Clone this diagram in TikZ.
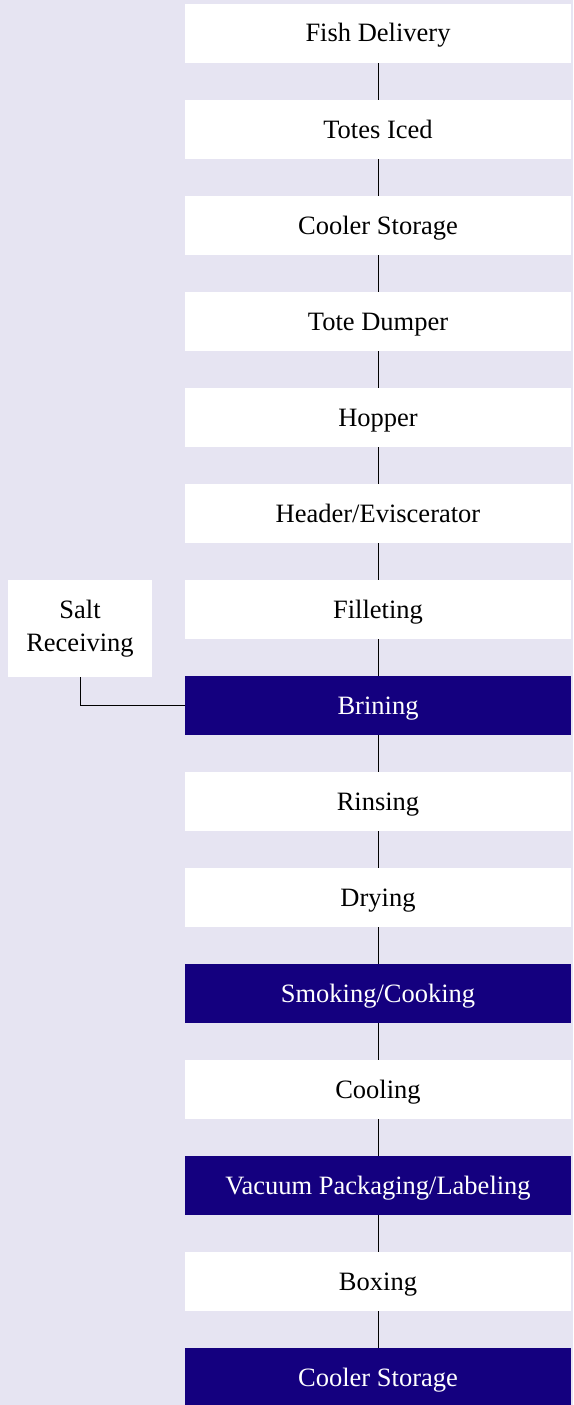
\documentclass[tikz,border=0pt]{standalone}
\usepackage{fontspec}
\setmainfont{Liberation Serif}
\definecolor{pagebg}{HTML}{E6E4F2}
\definecolor{ccpblue}{HTML}{14007F}
\begin{document}
\begin{tikzpicture}[x=1pt,y=-1pt,
  stepbox/.style={rectangle, inner sep=0pt, minimum width=386pt, minimum height=59pt,
    text height=18.5pt, text depth=1.5pt,
    fill=white, text=black, font=\fontsize{26.5}{32.5}\selectfont},
  ccpbox/.style={stepbox, fill=ccpblue, text=white},
  sidebox/.style={rectangle, inner sep=0pt, minimum width=144pt, minimum height=97pt,
    fill=white, align=center, font=\fontsize{26.5}{32.5}\selectfont},
  flow/.style={draw=black, line width=1pt}]
  \fill[pagebg] (0,0) rectangle (573,1405);
  \useasboundingbox (0,0) rectangle (573,1405);
  \clip (0,0) rectangle (573,1405);

  % main process column
  \node[stepbox] (s1)  at (378,  33.5) {Fish Delivery};
  \node[stepbox] (s2)  at (378, 129.5) {Totes Iced};
  \node[stepbox] (s3)  at (378, 225.5) {Cooler Storage};
  \node[stepbox] (s4)  at (378, 321.5) {Tote Dumper};
  \node[stepbox] (s5)  at (378, 417.5) {Hopper};
  \node[stepbox] (s6)  at (378, 513.5) {Header/Eviscerator};
  \node[stepbox] (s7)  at (378, 609.5) {Filleting};
  \node[ccpbox]  (s8)  at (378, 705.5) {Brining};
  \node[stepbox] (s9)  at (378, 801.5) {Rinsing};
  \node[stepbox] (s10) at (378, 897.5) {Drying};
  \node[ccpbox]  (s11) at (378, 993.5) {Smoking/Cooking};
  \node[stepbox] (s12) at (378,1089.5) {Cooling};
  \node[ccpbox]  (s13) at (378,1185.5) {Vacuum Packaging/Labeling};
  \node[stepbox] (s14) at (378,1281.5) {Boxing};
  \node[ccpbox]  (s15) at (378,1377.5) {Cooler Storage};

  % side input
  \node[sidebox] (salt) at (80,628.5) {Salt\\Receiving};

  % connectors
  \foreach \a/\b in {s1/s2,s2/s3,s3/s4,s4/s5,s5/s6,s6/s7,s7/s8,s8/s9,s9/s10,
                     s10/s11,s11/s12,s12/s13,s13/s14,s14/s15}
    \draw[flow] (\a.south) -- (\b.north);
  \draw[flow] (salt.south) |- (s8.west);
\end{tikzpicture}
\end{document}
